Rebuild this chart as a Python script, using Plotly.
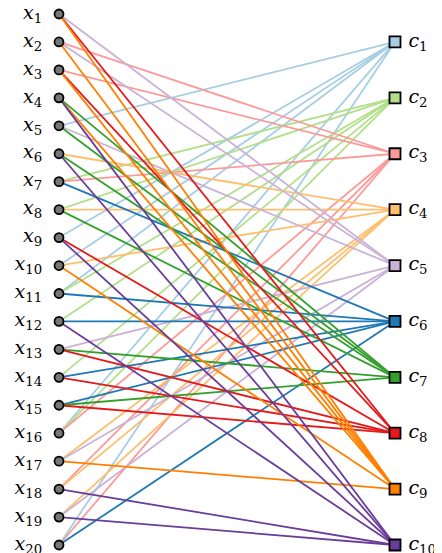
import plotly.graph_objects as go

# data
left_labels = [f"x{i}" for i in range(1, 21)]
right_labels = [f"c{k}" for k in range(1, 11)]
colors = ["#a6cee3", "#b2df8a", "#fb9a99", "#fdbf6f", "#cab2d6",
          "#1f78b4", "#33a02c", "#e31a1c", "#ff7f00", "#6a3d9a"]
# edges: left node index (1-based) -> list of right node indices (1-based)
edges = {
    1: [5, 8, 9],
    2: [3, 5, 9],
    3: [3, 8, 9],
    4: [7, 9, 10],
    5: [1, 5, 7],
    6: [4, 7, 10],
    7: [2, 3, 6],
    8: [2, 4, 7],
    9: [1, 8, 10],
    10: [1, 4, 9],
    11: [1, 2, 6],
    12: [2, 6, 10],
    13: [5, 7, 8],
    14: [2, 6, 8],
    15: [6, 7, 8],
    16: [1, 2, 3],
    17: [4, 5, 9],
    18: [3, 4, 10],
    19: [4, 5, 10],
    20: [1, 3, 6],
}

left_y = list(range(1, 21))
right_y = [2 * k for k in range(1, 11)]

fig = go.Figure()

for k in range(1, 11):
    xs, ys = [], []
    for i in range(1, 21):
        if k in edges[i]:
            xs += [0, 1, None]
            ys += [left_y[i - 1], right_y[k - 1], None]
    fig.add_trace(go.Scatter(x=xs, y=ys, mode="lines",
                             line=dict(color=colors[k - 1], width=1.8),
                             hoverinfo="skip", showlegend=False))

fig.add_trace(go.Scatter(
    x=[0] * 20, y=left_y, mode="markers",
    marker=dict(symbol="circle", size=9, color="#777777",
                line=dict(color="black", width=1.8)),
    cliponaxis=False, showlegend=False))
fig.add_trace(go.Scatter(
    x=[1] * 10, y=right_y, mode="markers",
    marker=dict(symbol="square", size=11, color=colors,
                line=dict(color="black", width=1.8)),
    cliponaxis=False, showlegend=False))

fig.add_trace(go.Scatter(
    x=[-0.05] * 20, y=left_y, mode="text",
    text=[f"<i>{s[0]}</i><sub>{s[1:]}</sub>" for s in left_labels],
    textposition="middle left", cliponaxis=False,
    textfont=dict(family="DejaVu Serif", size=19, color="black"),
    showlegend=False, hoverinfo="skip"))
fig.add_trace(go.Scatter(
    x=[1.04] * 10, y=right_y, mode="text",
    text=[f"<i>{s[0]}</i><sub>{s[1:]}</sub>" for s in right_labels],
    textposition="middle right", cliponaxis=False,
    textfont=dict(family="DejaVu Serif", size=19, color="black"),
    showlegend=False, hoverinfo="skip"))

fig.update_layout(
    width=434, height=545,
    margin=dict(l=0, r=0, t=0, b=0),
    paper_bgcolor="white", plot_bgcolor="white",
    xaxis=dict(range=[-0.1518, 1.1399], visible=False, fixedrange=True),
    yaxis=dict(range=[20.286, 0.7853], visible=False, fixedrange=True),
)

fig.write_html("out.html")
